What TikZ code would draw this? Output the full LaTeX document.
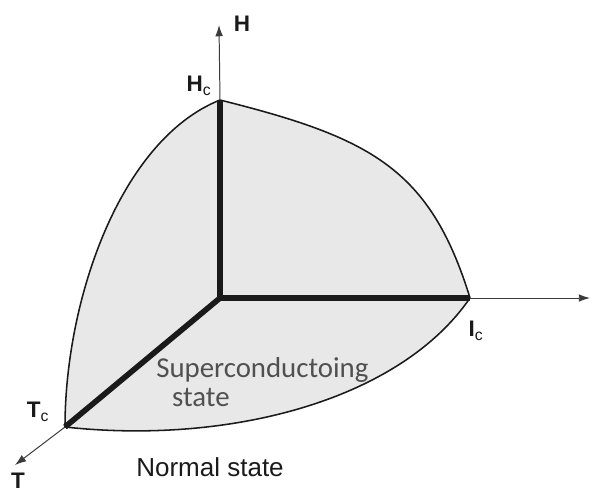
\documentclass[tikz,border=0pt]{standalone}
\usepackage{fontspec}
\setmainfont{Liberation Sans}
\newfontfamily\calibfont{Carlito}
\usetikzlibrary{arrows.meta}
\definecolor{Shade}{HTML}{E8E8E8}
\definecolor{Ink}{HTML}{1A1A1A}
\definecolor{AxisGrey}{HTML}{3A3A3A}
\definecolor{Label}{HTML}{505050}

\begin{document}
\begin{tikzpicture}[x=0.025cm,y=-0.025cm,
    axis/.style={draw=AxisGrey,line width=0.7pt,-{Latex[length=8pt,width=5.5pt]}},
    critline/.style={draw=Ink,line width=4pt,line join=miter},
    bound/.style={draw=Ink,line width=1.1pt},
    axlabel/.style={font=\bfseries\fontsize{16}{18}\selectfont,text=Ink,inner sep=0pt}]
        \useasboundingbox (0,0) rectangle (596,494);
        \coordinate (O) at (220,298);
        \coordinate (Hc) at (220,100);
        \coordinate (Ic) at (470,298);
        \coordinate (Tc) at (65,427);
        \coordinate (Htip) at (219,25);
        \coordinate (Itip) at (590,298);
        \coordinate (Ttip) at (15,465);
        % superconducting region
        \fill[Shade] (Hc) .. controls (370,137.5) and (430,168) .. (Ic) .. controls (400,400) and (230,445) .. (Tc) .. controls (65,300) and (120,140) .. (Hc) -- cycle;
        \draw[bound] (Hc) .. controls (370,137.5) and (430,168) .. (Ic);
        \draw[bound] (Ic) .. controls (400,400) and (230,445) .. (Tc);
        \draw[bound] (Tc) .. controls (65,300) and (120,140) .. (Hc);
        % axes
        \draw[axis] (Hc) -- (Htip);
        \draw[axis] (Ic) -- (Itip);
        \draw[axis] (Tc) -- (Ttip);
        \draw[critline] (Hc) -- (O) -- (Tc);
        \draw[critline] (O) -- (Ic);
        % labels
        \node[axlabel] (h) at (242,24) {H};
        \node[axlabel] (hc) at (199,86) {H\textsubscript{\mdseries c}};
        \node[axlabel] (ic) at (476,331) {I\textsubscript{\mdseries c}};
        \node[axlabel] (tc) at (38,412) {T\textsubscript{\mdseries c}};
        \node[axlabel,anchor=south] (t) at (18,489) {T};
        \node[anchor=west,align=left,text=Label,inner sep=0pt,font=\calibfont\fontsize{20.5}{21}\selectfont] (sc) at (156,382) {Superconductoing\\\hspace*{0.55em}state};
        \node[text=Ink,inner sep=0pt,font=\fontsize{18.5}{20}\selectfont] (ns) at (210,467) {Normal state};
\end{tikzpicture}
\end{document}
